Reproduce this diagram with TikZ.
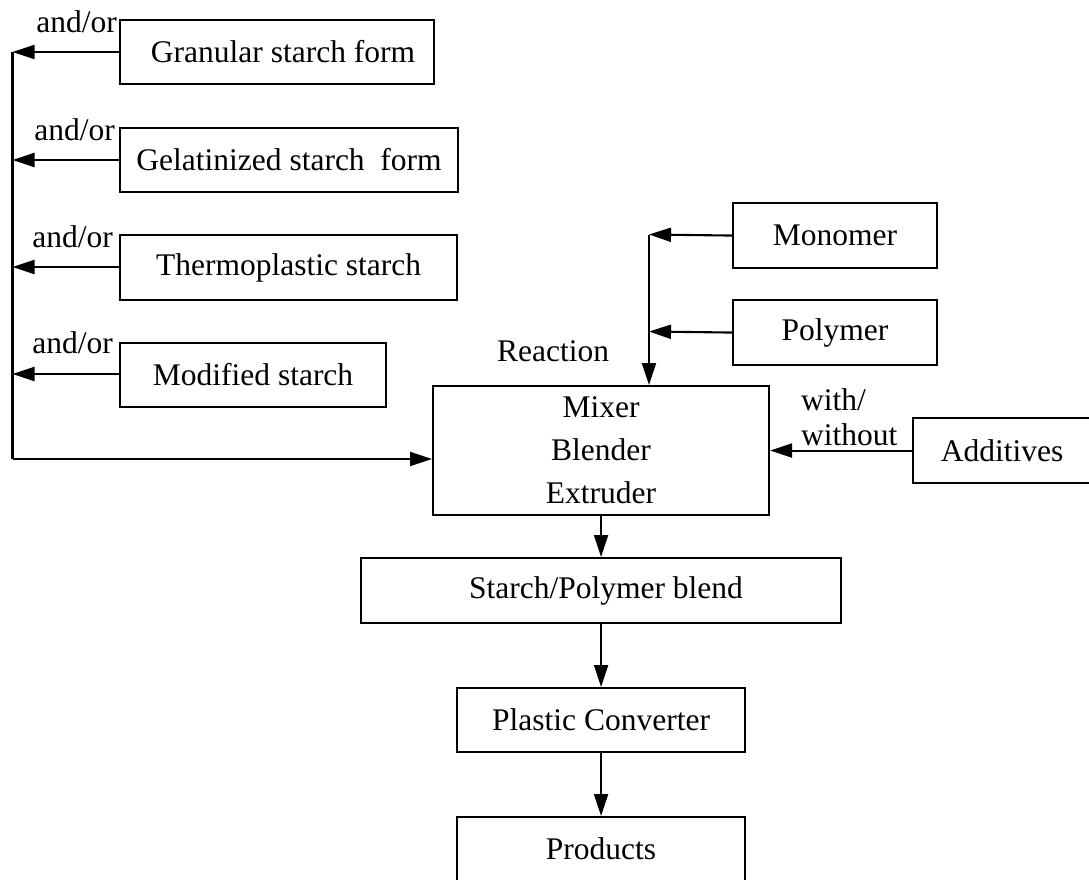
\documentclass[tikz,border=0pt]{standalone}
\usepackage{fontspec}
\setmainfont{Liberation Serif}
\usetikzlibrary{arrows.meta,calc}
\begin{document}
\begin{tikzpicture}[x=1pt,y=1pt,
  every node/.style={font=\fontsize{31.5}{43}\selectfont},
  box/.style={draw, line width=2.1pt, anchor=north west, inner sep=0pt, align=center},
  conn/.style={line width=2.1pt, -{Triangle[length=22pt,width=14pt]}},
  plain/.style={line width=2.1pt},
  lbl/.style={inner sep=0pt}]
\useasboundingbox (0,0) rectangle (1089,-879);
% left column boxes
\node[box, minimum width=314pt, minimum height=64pt] (gran) at (119,-19) {\hspace*{12pt}Granular starch form};
\node[box, minimum width=338pt, minimum height=64pt] (gel) at (119,-127) {Gelatinized starch\ \ form};
\node[box, minimum width=337pt, minimum height=65pt] (thermo) at (119,-234) {Thermoplastic starch};
\node[box, minimum width=266pt, minimum height=64pt] (mod) at (119,-342) {Modified starch};
% right boxes
\node[box, minimum width=204pt, minimum height=65pt] (mono) at (732,-202) {Monomer};
\node[box, minimum width=204pt, minimum height=65pt] (poly) at (732,-299) {Polymer};
\node[box, minimum width=336pt, minimum height=129pt] (mix) at (432,-385) {Mixer\\Blender\\Extruder};
\node[box, minimum width=186pt, minimum height=65pt] (add) at (912,-417) {\hspace*{-8pt}Additives};
% chain
\node[box, minimum width=480pt, minimum height=65pt] (blend) at (360,-557) {\hspace*{10pt}Starch/Polymer blend};
\node[box, minimum width=288pt, minimum height=64pt] (conv) at (456,-687) {Plastic Converter};
\node[box, minimum width=288pt, minimum height=90pt] (prod) at (456,-816) {\raisebox{26pt}{Products}};
% junction coordinates
\coordinate (j1) at (12.5,-52);
\coordinate (j2) at (12.5,-160);
\coordinate (j3) at (12.5,-267);
\coordinate (j4) at (12.5,-374);
\coordinate (jb) at (12.5,-459);
\coordinate (r1) at (649,-234.5);
\coordinate (r2) at (649,-331.5);
% left connectors
\draw[conn] (gran.west |- j1) -- (j1);
\draw[conn] (gel.west |- j2) -- (j2);
\draw[conn] (thermo.west |- j3) -- (j3);
\draw[conn] (mod.west |- j4) -- (j4);
\draw[plain] (j1) -- (jb);
\draw[conn] (jb) -- (jb -| mix.west);
% right connectors
\draw[conn] (mono.west) -- (r1);
\draw[conn] (poly.west) -- (r2);
\draw[conn] (r1) -- (r1 |- mix.north);
\draw[conn] (add.west) -- (mix.east);
% chain connectors
\draw[conn] (mix.south -| blend.north) -- (blend.north);
\draw[conn] (blend.south) -- (conv.north);
\draw[conn] (conv.south) -- (prod.north);
% labels
\node[lbl, anchor=base east] (l1) at (117,-32) {and/or};
\node[lbl, anchor=base east] (l2) at (115,-140) {and/or};
\node[lbl, anchor=base east] (l3) at (113,-247) {and/or};
\node[lbl, anchor=base east] (l4) at (113,-353) {and/or};
\node[lbl, anchor=base west] (react) at (497,-361) {Reaction};
\node[lbl, anchor=base west] (with) at (801,-410) {with/};
\node[lbl, anchor=base west] (without) at (801,-445) {without};
\end{tikzpicture}
\end{document}
